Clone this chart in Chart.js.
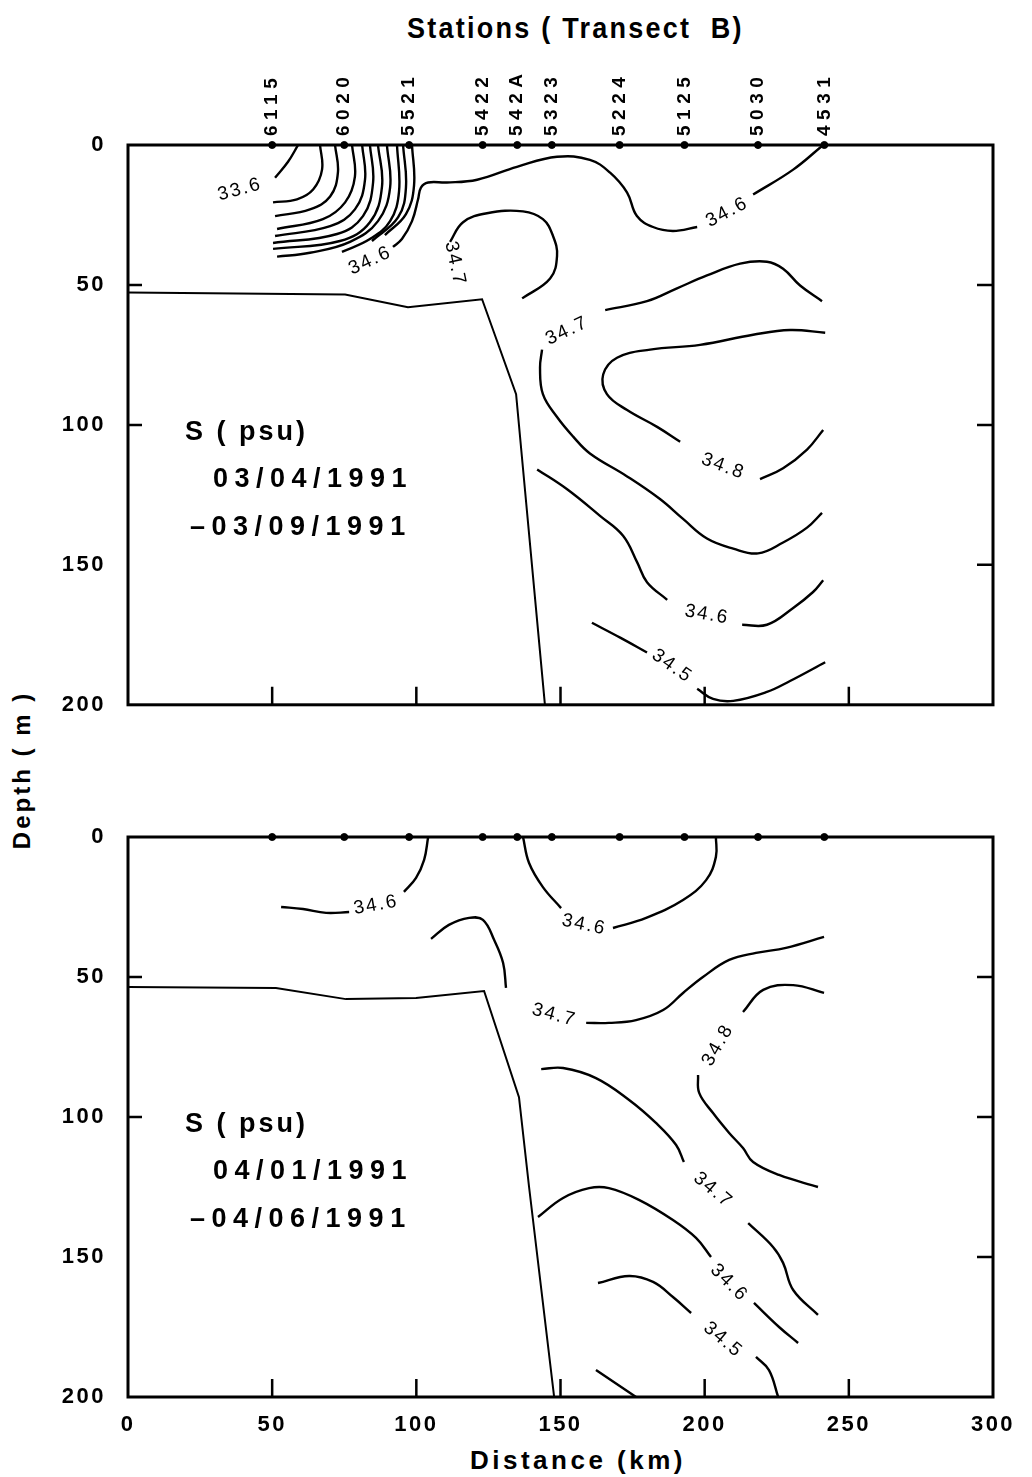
<!DOCTYPE html>
<html lang="en">
<head>
<meta charset="UTF-8">
<title>Salinity sections, Transect B</title>
<script src="https://cdn.jsdelivr.net/npm/chart.js"></script>
<style>
    body { margin: 0; background: #fff; width: 1032px; height: 1477px; position: relative; overflow: hidden; }
    canvas { position: absolute; left: 0; }
    #topChart { top: 0; }
    #bottomChart { top: 740px; }
    .lbl { position: absolute; font-family: 'Liberation Sans', Arial, sans-serif; font-weight: bold; color: #000; white-space: nowrap; }
    #title { left: 407px; top: 11px; font-size: 30px; letter-spacing: 2.5px; transform: scaleX(0.9); transform-origin: left center; }
    #depthTitle { left: 22px; top: 770px; font-size: 24px; letter-spacing: 3px; transform: translate(-50%, -50%) rotate(-90deg); }
    #distTitle { left: 470px; top: 1445px; font-size: 26px; letter-spacing: 3.5px; }
</style>
</head>
<body>
<div class="lbl" id="title">Stations ( Transect&nbsp; B)</div>
<div class="lbl" id="depthTitle">Depth ( m )</div>
<div class="lbl" id="distTitle">Distance (km)</div>
<canvas id="topChart" width="1032" height="740"></canvas>
<canvas id="bottomChart" width="1032" height="737"></canvas>

<script>
    // stations along the transect (km from the coast)
    const stationNames = ['6115', '6020', '5521', '5422', '542A', '5323', '5224', '5125', '5030', '4531'];
    const stationKm = [50, 75, 97.5, 123, 135, 147, 170.5, 193, 218.5, 241.5];

    const distTicks = [0, 50, 100, 150, 200, 250, 300];
    const depthTicks = [0, 50, 100, 150, 200];

    // ---- section 1 : 03/04 - 03/09/1991 ----  points are [km, m], null = label gap
    const shelf1 = [[0, 52.7], [75.3, 53.4], [97.1, 58], [122.8, 55.1], [134.6, 89], [144.6, 200]];

    const nearshore1 = [
        [[59, 0], [55.5, 6], [51, 11.7]],
        [[66.6, 0], [67.3, 8.8], [64.2, 15.9], [58.6, 19.4], [50.3, 20.5]],
        [[71.8, 0], [72.8, 9.9], [70.1, 18.4], [63.1, 23], [51, 25.4]],
        [[77.7, 0], [78.7, 11.3], [75.3, 20.5], [67.6, 26.5], [51.7, 30]],
        [[81.2, 0], [82.2, 12.4], [78.7, 23], [70.1, 29], [51, 32.5]],
        [[83.9, 0], [85, 13.4], [81.5, 25.4], [72.5, 31.8], [50.3, 35]],
        [[86.7, 0], [88.1, 14.8], [83.9, 27.6], [73.5, 34.3], [50.3, 37.1]],
        [[89.8, 0], [90.9, 15.2], [86.7, 27.2], [77, 34.6], [63.1, 38.5], [51.7, 39.9]],
        [[93.3, 0], [94, 16.6], [90.9, 27.2], [83.9, 33.6], [74.2, 38.2]],
        [[95.4, 0], [96.4, 15.2], [93.7, 25.8], [84.6, 34.3]],
        [[98.5, 0], [99.2, 14.5], [96.4, 24.7], [89.1, 32.2]]
    ];

    const s346a = [[91.9, 36.4], [95, 33.6], [98.5, 27.2], [100.6, 19.4], [101.6, 15.2], [104.1, 13.4],
        [110.6, 13.4], [121.1, 12.4], [134.9, 7.8], [148.8, 4.2], [160.2, 5.3], [167.2, 9.9], [173.1, 17],
        [176.5, 25.4], [182.1, 29.3], [189, 30.7], [197.4, 29.3], null,
        [216.8, 17.7], [230.7, 8.8], [241.1, 0]];
    const s347a = [[111.7, 34.6], [116.2, 27.6], [124.5, 24.4], [137, 23.7], [143.9, 26.5], [147.4, 32.5],
        [148.8, 39.6], [146.4, 47.7], [136.7, 54.8]];
    const s347b = [[240.7, 55.8], [233.1, 50.2], [227.2, 44.2], [221.6, 41.7], [212.3, 42.4], [200.8, 46.6],
        [190.4, 51.2], [180, 55.8], [165.5, 59], null,
        [143.6, 73.1], [142.9, 79.5], [143.9, 89], [148.8, 97.2], [154.4, 104.2], [160.2, 110.2], [173.1, 118.4],
        [184.5, 126.5], [192.5, 133.6], [200.8, 140.6], [209.9, 144.2], [218.5, 145.9], [227.2, 142],
        [235.5, 136.7], [240.7, 131.4]];
    const s348a = [[241.8, 67.1], [229.6, 66.1], [216.8, 67.8], [198.4, 71.4], [181.1, 73.1], [169.6, 76],
        [164.8, 82], [166.1, 89], [173.1, 94.7], [183.5, 100.7], [191.5, 106], null,
        [219.2, 119.4], [227.2, 115.5], [235.5, 108.8], [241.1, 101.8]];
    const s346b = [[141.9, 115.9], [152.3, 123], [163.7, 132.5], [171.7, 139.6], [176.6, 149.1], [180, 156.2],
        [187, 162.5], null,
        [213, 171.4], [221.6, 171.4], [230.7, 165.4], [237.6, 159.7], [241.1, 155.5]];
    const s345a = [[160.9, 170.7], [170.7, 176], [180, 181.3], null,
        [197.4, 194.3], [202.9, 197.9], [209.9, 198.6], [221.6, 195.4], [229.6, 191.5], [241.8, 184.8]];

    // [text, km, m, angle in degrees]
    const labels1 = [
        ['33.6', 38.8, 15.9, -15],
        ['34.6', 84, 41.3, -25],
        ['34.7', 113.4, 42.4, 78],
        ['34.6', 207.8, 24, -28],
        ['34.7', 152.3, 66.4, -25],
        ['34.8', 206.4, 114.8, 20],
        ['34.6', 200.8, 167.8, 10],
        ['34.5', 188.7, 186.2, 35]
    ];
    const note1 = ['S ( psu)', '03/04/1991', '\u201303/09/1991'];

    // ---- section 2 : 04/01 - 04/06/1991 ----
    const shelf2 = [[0, 53.6], [51.3, 53.9], [75.6, 57.9], [99.9, 57.5], [123.5, 55], [135.6, 92.9],
        [139.1, 125], [147.8, 200]];

    const t346a = [[104.1, 0], [102.7, 8.2], [99.9, 14.6], [95.7, 19.6], null,
        [76.7, 26.8], [68.7, 27.1], [60.7, 25.7], [53.1, 25]];
    const t34hump = [[105.1, 36.4], [111.3, 31.4], [118.3, 28.9], [123.1, 29.6], [127, 36.8], [130.1, 45], [131.1, 53.9]];
    const t346b = [[137, 0], [139.1, 9.3], [143.9, 17.9], [150.2, 25.4], null,
        [168.2, 32.5], [179.7, 28.9], [192.5, 22.5], [200.5, 15.4], [203.9, 7.1], [203.9, 0]];
    const t347a = [[241.4, 35.7], [228.2, 39.6], [217.8, 41.4], [208.5, 43.9], [199.4, 50], [192.5, 55.7],
        [185.6, 61.8], [176.2, 65.4], [166.8, 66.4], [158.9, 66.4]];
    const t348a = [[241.4, 55.7], [230.7, 52.9], [220.3, 54.6], [213.3, 62.5], null,
        [197.7, 85], [198.1, 91.4], [202.9, 98.6], [208.5, 105.7], [213.3, 111.1], [216.8, 116.1],
        [225.8, 120.7], [239.3, 125]];
    const t347b = [[143.3, 82.9], [150.9, 82.5], [162.3, 86.1], [173.8, 93.9], [183.1, 102.1], [190.1, 110],
        [192.8, 116.1], null,
        [215.1, 137.9], [223.7, 146.4], [227.2, 152.1], [230.7, 161.8], [239.3, 170.7]];
    const t346c = [[142.2, 135.7], [150.9, 128.9], [159.9, 125.4], [166.8, 125.4], [177.2, 129.6], [189, 136.8],
        [197, 143.2], [202.2, 150], null,
        [217.1, 166.4], [225.8, 175], [232.4, 180.7]];
    const t345a = [[163, 159.3], [173.8, 156.8], [182.1, 158.9], [189, 164.3], [195.3, 170], null,
        [217.8, 185.7], [222.3, 190.4], [225.5, 200]];
    const t345b = [[162.3, 190.4], [176.2, 200]];

    const labels2 = [
        ['34.6', 86, 24.3, -10],
        ['34.6', 158.2, 31.4, 12],
        ['34.7', 147.8, 63.6, 15],
        ['34.8', 204.6, 74.3, -60],
        ['34.7', 202.9, 126.1, 40],
        ['34.6', 208.5, 159.3, 45],
        ['34.5', 206.4, 179.6, 40]
    ];
    const note2 = ['S ( psu)', '04/01/1991', '\u201304/06/1991'];

    const FONT = "'Liberation Sans', Arial, sans-serif";
    Chart.defaults.font.family = FONT;
    Chart.defaults.color = '#000';

    function toSegments(line) {
        const out = [];
        let cur = [];
        for (const p of line) {
            if (p === null) {
                if (cur.length) out.push(cur);
                cur = [];
            } else {
                cur.push({ x: p[0], y: p[1] });
            }
        }
        if (cur.length) out.push(cur);
        return out;
    }

    function buildDatasets(shelf, contours) {
        const sets = [];
        sets.push({
            data: shelf.map(p => ({ x: p[0], y: p[1] })),
            showLine: true, borderColor: '#000', borderWidth: 2, pointRadius: 0, tension: 0
        });
        contours.forEach(line => {
            toSegments(line).forEach(seg => {
                sets.push({
                    data: seg, showLine: true, borderColor: '#000', borderWidth: 2.4,
                    pointRadius: 0, tension: 0.4
                });
            });
        });
        sets.push({
            data: stationKm.map(k => ({ x: k, y: 0 })),
            showLine: false, pointRadius: 3.5, backgroundColor: '#000', borderColor: '#000', clip: false
        });
        return sets;
    }

    // wide spacing for the tick numbers, the axis labels are drawn with the ctx state set here
    const tickSpacing = {
        id: 'tickSpacing',
        beforeDraw(chart) { chart.ctx.letterSpacing = '2.5px'; }
    };

    // frame, inward ticks, contour values, station names, panel note
    const sectionDecor = {
        id: 'sectionDecor',
        afterDraw(chart, args, opts) {
            const { ctx, chartArea: a, scales: { x, y } } = chart;
            ctx.save();
            ctx.strokeStyle = '#000';
            ctx.fillStyle = '#000';

            ctx.lineWidth = 3;
            ctx.strokeRect(a.left, a.top, a.right - a.left, a.bottom - a.top);

            ctx.lineWidth = 2.5;
            ctx.beginPath();
            [50, 100, 150, 200, 250].forEach(v => {
                const px = x.getPixelForValue(v);
                ctx.moveTo(px, a.bottom);
                ctx.lineTo(px, a.bottom - 18);
            });
            [50, 100].forEach(v => {
                const py = y.getPixelForValue(v);
                ctx.moveTo(a.left, py);
                ctx.lineTo(a.left + 14, py);
            });
            [50, 100, 150].forEach(v => {
                const py = y.getPixelForValue(v);
                ctx.moveTo(a.right, py);
                ctx.lineTo(a.right - 16, py);
            });
            ctx.stroke();

            ctx.font = '19px ' + FONT;
            ctx.letterSpacing = '2px';
            ctx.textAlign = 'center';
            ctx.textBaseline = 'middle';
            opts.values.forEach(([txt, km, m, ang]) => {
                ctx.save();
                ctx.translate(x.getPixelForValue(km), y.getPixelForValue(m));
                ctx.rotate(ang * Math.PI / 180);
                ctx.fillText(txt, 0, 0);
                ctx.restore();
            });

            if (opts.stations) {
                ctx.font = 'bold 19px ' + FONT;
                ctx.letterSpacing = '5.5px';
                ctx.textAlign = 'left';
                stationNames.forEach((name, i) => {
                    ctx.save();
                    ctx.translate(x.getPixelForValue(stationKm[i]), a.top - 9);
                    ctx.rotate(-Math.PI / 2);
                    ctx.fillText(name, 0, 0);
                    ctx.restore();
                });
            }

            ctx.font = 'bold 27px ' + FONT;
            ctx.textAlign = 'left';
            ctx.textBaseline = 'middle';
            const nx = a.left + 57;
            ctx.letterSpacing = '3px';
            ctx.fillText(opts.note[0], nx, a.top + 288);
            ctx.letterSpacing = '6.5px';
            ctx.fillText(opts.note[1], nx + 28, a.top + 335);
            ctx.fillText(opts.note[2], nx + 5, a.top + 383);
            ctx.restore();
        }
    };

    function makeSection(canvasId, shelf, contours, values, note, showStations, padTop, xLabels) {
        return new Chart(document.getElementById(canvasId), {
            type: 'scatter',
            data: { datasets: buildDatasets(shelf, contours) },
            plugins: [tickSpacing, sectionDecor],
            options: {
                responsive: false,
                animation: false,
                layout: { padding: { top: padTop, right: 39, bottom: xLabels ? 0 : 29, left: 0 } },
                plugins: {
                    legend: { display: false },
                    tooltip: { enabled: false },
                    sectionDecor: { values: values, note: note, stations: showStations }
                },
                scales: {
                    x: {
                        type: 'linear', min: 0, max: 300,
                        display: xLabels,
                        grid: { display: false, drawTicks: false },
                        border: { display: false },
                        afterBuildTicks: s => { s.ticks = distTicks.map(v => ({ value: v })); },
                        ticks: { padding: 15, font: { size: 22, weight: 'bold' }, maxRotation: 0 },
                        afterFit: s => { s.height = xLabels ? 80 : 0; }
                    },
                    y: {
                        type: 'linear', min: 0, max: 200, reverse: true,
                        grid: { display: false, drawTicks: false },
                        border: { display: false },
                        afterBuildTicks: s => { s.ticks = depthTicks.map(v => ({ value: v })); },
                        ticks: { padding: 22, font: { size: 22, weight: 'bold' } },
                        afterFit: s => { s.width = 128; }
                    }
                }
            }
        });
    }

    makeSection('topChart', shelf1,
        nearshore1.concat([s346a, s347a, s347b, s348a, s346b, s345a]),
        labels1, note1, true, 145, false);

    makeSection('bottomChart', shelf2,
        [t346a, t34hump, t346b, t347a, t348a, t347b, t346c, t345a, t345b],
        labels2, note2, false, 97, true);
</script>
</body>
</html>
